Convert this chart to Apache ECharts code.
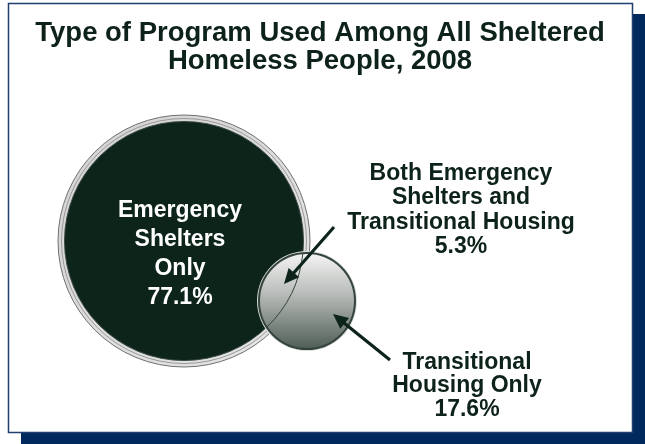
<!DOCTYPE html>
<html><head><meta charset="utf-8">
<script src="https://cdn.jsdelivr.net/npm/echarts@6/dist/echarts.min.js"></script>
<style>html,body{margin:0;padding:0;background:#fff}#c{width:645px;height:444px}</style>
</head><body><div id="c"></div>
<script>
// ---- data ----
const titleLines = ['Type of Program Used Among All Sheltered', 'Homeless People, 2008'];
const regionNames = ['Emergency Shelters Only', 'Both Emergency Shelters and Transitional Housing', 'Transitional Housing Only'];
const regionLabelLines = [['Emergency', 'Shelters', 'Only'], ['Both Emergency', 'Shelters and', 'Transitional Housing'], ['Transitional', 'Housing Only']];
const regionShares = [77.1, 5.3, 17.6];

// ---- layout (chart units = pixels of the 645x444 canvas) ----
const setLayout = [[184, 241, 126], [307, 301, 48]];           // big set, small set
const labelLayout = [[180, 254, 29, '#ffffff'], [461, 210, 24.5, '#0d2218'], [467, 386, 23.5, '#0d2218']];
const arrowLayout = [[334, 227, 284, 284], [390, 360, 333, 314]];

const FONT = '"Liberation Sans", Arial, sans-serif';
const DARK = '#0c2419';

const chart = echarts.init(document.getElementById('c'), null, {renderer: 'canvas'});

function vennRender(params, api) {
  if (params.dataIndex !== 0) return null;
  const big = setLayout[0], small = setLayout[1];
  const c1 = api.coord([big[0], big[1]]), r1 = api.size([big[2], 0])[0];
  const c2 = api.coord([small[0], small[1]]), r2 = api.size([small[2], 0])[0];
  const rFill = r1 - 6.5;
  const dx = c2[0] - c1[0], dy = c2[1] - c1[1];
  const d = Math.sqrt(dx * dx + dy * dy);
  const base = Math.atan2(dy, dx);
  const alpha = Math.acos((d * d + rFill * rFill - r2 * r2) / (2 * d * rFill));
  return {
    type: 'group',
    children: [
      {type: 'circle', shape: {cx: c1[0], cy: c1[1], r: r1}, style: {fill: new echarts.graphic.LinearGradient(0, 0, 1, 1, [{offset: 0, color: '#d2d2d2'}, {offset: 1, color: '#e6e6e6'}]), stroke: '#707070', lineWidth: 1}},
      {type: 'circle', shape: {cx: c1[0], cy: c1[1], r: r1 - 3.5}, style: {fill: null, stroke: '#9a9a9a', lineWidth: 1}},
      {type: 'circle', shape: {cx: c1[0], cy: c1[1], r: rFill}, style: {fill: DARK, stroke: '#3c4a44', lineWidth: 1}},
      {type: 'circle', shape: {cx: c2[0], cy: c2[1], r: r2 + 2}, style: {fill: '#d9dcda'}},
      {type: 'circle', shape: {cx: c2[0], cy: c2[1], r: r2}, style: {
        fill: new echarts.graphic.LinearGradient(0, 0, 0, 1, [
          {offset: 0, color: '#f6f6f6'}, {offset: 0.45, color: '#b4b8b5'}, {offset: 1, color: '#4d5c54'}]),
        stroke: '#34443c', lineWidth: 2}},
      {type: 'arc', shape: {cx: c1[0], cy: c1[1], r: rFill, startAngle: base - alpha, endAngle: base + alpha, clockwise: true},
        style: {fill: null, stroke: '#34443c', lineWidth: 1}}
    ]
  };
}

function arrowRender(params, api) {
  const a = arrowLayout[params.dataIndex];
  const p0 = api.coord([a[0], a[1]]), p1 = api.coord([a[2], a[3]]);
  const ang = Math.atan2(p1[1] - p0[1], p1[0] - p0[0]);
  const L = 15, Wd = 7;
  const bx = p1[0] - L * Math.cos(ang), by = p1[1] - L * Math.sin(ang);
  const nx = -Math.sin(ang), ny = Math.cos(ang);
  return {
    type: 'group',
    children: [
      {type: 'line', shape: {x1: p0[0], y1: p0[1], x2: bx + 2 * Math.cos(ang), y2: by + 2 * Math.sin(ang)}, style: {stroke: DARK, lineWidth: 3.2}},
      {type: 'polygon', shape: {points: [[p1[0], p1[1]], [bx + nx * Wd, by + ny * Wd], [bx - nx * Wd, by - ny * Wd]]}, style: {fill: DARK}}
    ]
  };
}

function labelRender(params, api) {
  const i = params.dataIndex;
  const l = labelLayout[i];
  const p = api.coord([l[0], l[1]]);
  const text = regionLabelLines[i].concat([regionShares[i].toFixed(1) + '%']).join('\n');
  return {
    type: 'text',
    style: {text: text, x: p[0], y: p[1], align: 'center', verticalAlign: 'middle',
      font: 'bold 23px ' + FONT, lineHeight: l[2], fill: l[3]}
  };
}

const titleStyle = {fontFamily: FONT, fontWeight: 'bold', fontSize: 27.5, lineHeight: 28, color: '#0d2218'};
const option = {
  animation: false,
  title: titleLines.map((t, i) => ({text: t, left: 320, top: 19 + i * 28, textAlign: 'center', padding: 0, textStyle: titleStyle})),
  graphic: [
    {type: 'rect', z: 0, shape: {x: 21, y: 14, width: 624, height: 430}, style: {fill: '#002a5e'}},
    {type: 'rect', z: 0, shape: {x: 8.5, y: 3.5, width: 624, height: 429}, style: {fill: '#ffffff', stroke: '#1f3f6e', lineWidth: 1.5}}
  ],
  grid: {left: 0, right: 0, top: 0, bottom: 0},
  xAxis: {type: 'value', min: 0, max: 645, show: false},
  yAxis: {type: 'value', min: 0, max: 444, inverse: true, show: false},
  series: [
    {type: 'custom', name: 'sets', z: 3, renderItem: vennRender, data: setLayout.map(s => [s[0], s[1], s[2]]), silent: true},
    {type: 'custom', name: 'arrows', z: 4, renderItem: arrowRender, data: arrowLayout.map(a => [a[0], a[1], a[2], a[3]]), silent: true},
    {type: 'custom', name: 'labels', z: 5, renderItem: labelRender, data: labelLayout.map((l, i) => ({name: regionNames[i], value: [l[0], l[1], regionShares[i]]})), silent: true}
  ]
};
chart.setOption(option);
</script>
</body></html>
